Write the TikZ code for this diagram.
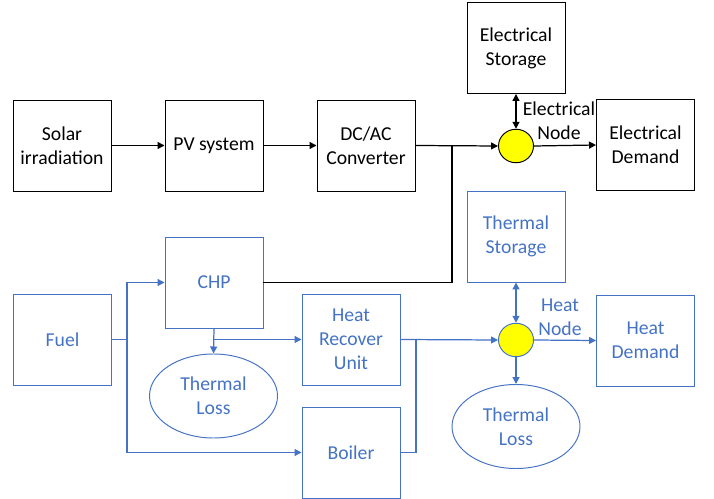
\documentclass[tikz,border=0pt]{standalone}
\usepackage{fontspec}
\setmainfont{Carlito}
\usetikzlibrary{arrows.meta,shapes.geometric}
\definecolor{heatblue}{HTML}{4472C4}
\definecolor{nodeyellow}{HTML}{FFFF00}
\tikzset{
  bx/.style={align=center, inner sep=0pt, minimum width=19.6mm, minimum height=18.2mm, line width=0.55pt},
  blk/.style={bx, draw=black, text=black},
  hb/.style={bx, draw=heatblue, text=heatblue},
  loss/.style={ellipse, draw=heatblue, text=heatblue, align=center, inner sep=0pt, minimum width=25.6mm, minimum height=16.8mm, line width=0.55pt},
  jn/.style={ellipse, fill=nodeyellow, inner sep=0pt, minimum width=7mm, minimum height=6.7mm, line width=0.55pt},
  arr/.style={-{Triangle[length=1.4mm, width=1.4mm]}, line width=0.7pt, color=black},
  arr2/.style={{Triangle[length=1.4mm, width=1.4mm]}-{Triangle[length=1.4mm, width=1.4mm]}, line width=0.7pt, color=black},
  harr/.style={arr, color=heatblue},
  harr2/.style={arr2, color=heatblue},
  ln/.style={line width=0.7pt, color=black},
  hln/.style={line width=0.7pt, color=heatblue},
  lbl/.style={align=center, inner sep=0pt},
}

\begin{document}
\begin{tikzpicture}[x=0.2mm, y=-0.2mm, font=\fontsize{11.2}{13.7}\selectfont]
  \useasboundingbox (0,0) rectangle (714,499);
  % electrical side
  \node[blk] (solar) at (62,145.5) {Solar\\irradiation};
  \node[blk] (pv) at (214,145.5) {PV system};
  \node[blk] (dcac) at (366,145.5) {DC/AC\\Converter};
  \node[blk] (estore) at (516,48) {Electrical\\Storage};
  \node[jn, draw=black] (enode) at (516,146) {};
  \node[blk] (edem) at (645.5,145) {Electrical\\Demand};
  \node[lbl] (elbl) at (559,121) {Electrical\\Node};
  \coordinate (ej) at (452,146);
  \draw[arr] (solar.east) -- (pv.west);
  \draw[arr] (pv.east) -- (dcac.west);
  \draw[arr] (dcac.east) -- (enode.west);
  \draw[arr2] (estore.south) -- (enode.north);
  \draw[arr] (enode.east) -- (edem.west);

  % thermal side
  \node[hb] (fuel) at (62.5,339.5) {Fuel};
  \node[hb] (chp) at (214,282.5) {CHP};
  \node[hb] (hru) at (351,339.5) {Heat\\Recover\\Unit};
  \node[hb] (boiler) at (351,452.5) {Boiler};
  \node[loss] (loss1) at (213.5,396) {Thermal\\Loss};
  \node[hb] (tstore) at (516,236.5) {Thermal\\Storage};
  \node[jn, draw=heatblue] (hnode) at (516,340) {};
  \node[hb] (hdem) at (645.5,340.5) {Heat\\Demand};
  \node[loss] (loss2) at (516,426.5) {Thermal\\Loss};
  \node[lbl, text=heatblue] (hlbl) at (560,317) {Heat\\Node};
  \coordinate (fj) at (127,339.5);
  \coordinate (hj) at (416,340);

  \draw[ln] (chp.east) -| (ej);
  \draw[hln] (fuel.east) -- (fj);
  \draw[harr] (fj) |- (chp.west);
  \draw[harr] (fj) |- (boiler.west);
  \draw[harr] (chp.south) -- (loss1.north);
  \draw[harr] (chp.south |- hru.west) -- (hru.west);
  \draw[harr] (hru.east) -- (hnode.west);
  \draw[hln] (boiler.east) -| (hj);
  \draw[harr2] (tstore.south) -- (hnode.north);
  \draw[harr] (hnode.east) -- (hdem.west);
  \draw[harr] (hnode.south) -- (loss2.north);
\end{tikzpicture}
\end{document}
